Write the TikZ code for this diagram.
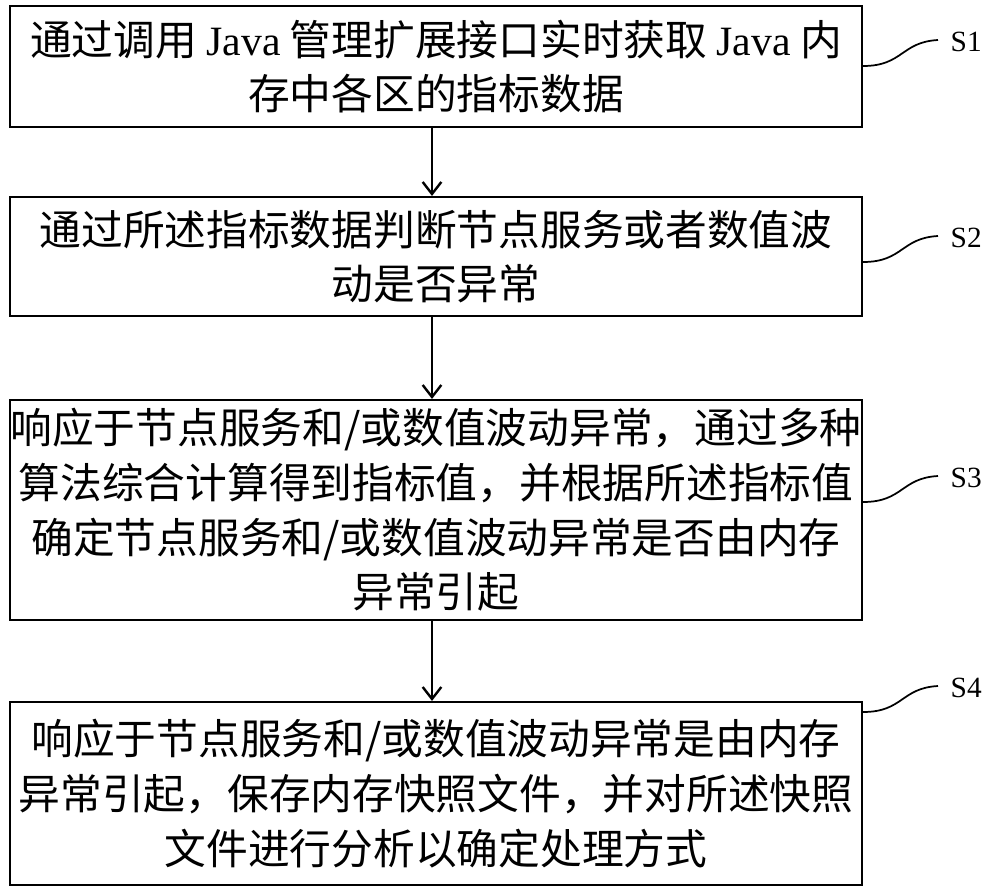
\documentclass[tikz,border=0pt]{standalone}
\usepackage{fontspec}
\setmainfont{Liberation Serif}
\newfontfamily\cjk{Noto Sans CJK SC}
\usetikzlibrary{arrows.meta,calc}
\begin{document}
\begin{tikzpicture}[x=0.75pt,y=-0.75pt,
  box/.style={draw,line width=1.6pt,inner sep=0pt,align=center,font=\cjk\fontsize{31.3}{41}\selectfont},
  arr/.style={line width=1.8pt,-{Straight Barb[length=9pt,width=14pt,line width=1.8pt]}},
  sq/.style={line width=1.3pt},
  lab/.style={font=\fontsize{22}{24}\selectfont,anchor=west}]
\useasboundingbox (0,0) rectangle (1000,893);
\node[box,minimum width=852pt*0.75,minimum height=121pt*0.75] (b1) at (436,66.5) {通过调用 {\rmfamily Java} 管理扩展接口实时获取 {\rmfamily Java} 内\\存中各区的指标数据};
\node[box,minimum width=852pt*0.75,minimum height=119pt*0.75] (b2) at (436,256.5) {通过所述指标数据判断节点服务或者数值波\\动是否异常};
\node[box,minimum width=852pt*0.75,minimum height=220pt*0.75] (b3) at (436,510) {响应于节点服务和/或数值波动异常，通过多种\\算法综合计算得到指标值，并根据所述指标值\\确定节点服务和/或数值波动异常是否由内存\\异常引起};
\node[box,minimum width=852pt*0.75,minimum height=183pt*0.75] (b4) at (436,793.5) {响应于节点服务和/或数值波动异常是由内存\\异常引起，保存内存快照文件，并对所述快照\\文件进行分析以确定处理方式};
\draw[arr] (b1.south -| 432,0) -- (b2.north -| 432,0);
\draw[arr] (b2.south -| 432,0) -- (b3.north -| 432,0);
\draw[arr] (b3.south -| 432,0) -- (b4.north -| 432,0);
\node[lab] (s1) at (946,42) {S1};
\node[lab] (s2) at (946,238) {S2};
\node[lab] (s3) at (946,478) {S3};
\node[lab] (s4) at (946,688) {S4};
\coordinate (c1) at (b1.east |- 0,66);
\coordinate (c2) at (b2.east |- 0,262);
\coordinate (c3) at (b3.east |- 0,502);
\coordinate (c4) at (b4.east |- 0,712);
\foreach \c/\s in {c1/s1,c2/s2,c3/s3,c4/s4}{
  \draw[sq] (\c) .. controls ($(\c)+(40,0)$) and ($(\s.west)+(-45,0)$) .. ($(\s.west)+(-8,-2)$);
}
\end{tikzpicture}
\end{document}
